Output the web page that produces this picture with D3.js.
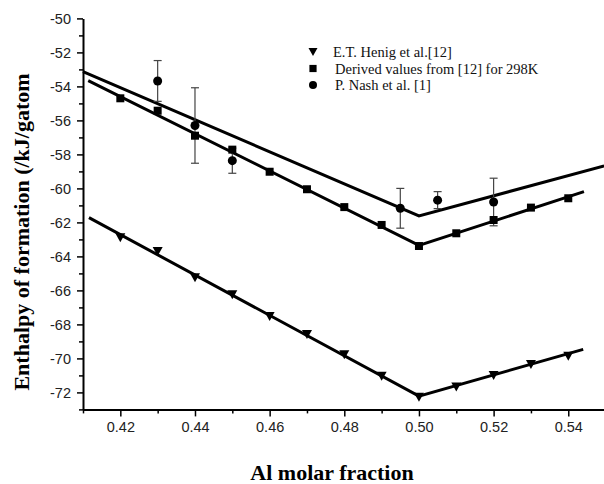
<!DOCTYPE html>
<html>
<head>
<meta charset="utf-8">
<script src="https://cdn.jsdelivr.net/npm/d3@7"></script>
<style>
  body { margin: 0; background: #fff; }
  svg { display: block; }
</style>
</head>
<body>
<svg id="chart"></svg>
<script>
// Data
const alFraction = [0.42, 0.43, 0.44, 0.45, 0.46, 0.47, 0.48, 0.49, 0.50, 0.51, 0.52, 0.53, 0.54];
const henigValues = [-62.88, -63.68, -65.23, -66.23, -67.5, -68.56, -69.76, -71.02, -72.25, -71.66, -70.98, -70.33, -69.84];
const derivedValues = [-54.7, -55.43, -56.9, -57.72, -59.02, -60.05, -61.1, -62.15, -63.39, -62.64, -61.86, -61.13, -60.58];

const nashX = [0.43, 0.44, 0.45, 0.495, 0.505, 0.52];
const nashValues = [-53.68, -56.3, -58.37, -61.17, -60.69, -60.8];
const nashErrors = [1.2, 2.22, 0.74, 1.17, 0.5, 1.4];

// Fitted lines (two straight segments each)
const nashFitX = [0.41, 0.50, 0.5496];
const nashFitY = [-53.13, -61.62, -58.68];
const derivedFitX = [0.4114, 0.50, 0.5442];
const derivedFitY = [-53.66, -63.35, -60.19];
const henigFitX = [0.4116, 0.50, 0.544];
const henigFitY = [-61.72, -72.22, -69.47];

const xMajorTicks = [0.42, 0.44, 0.46, 0.48, 0.50, 0.52, 0.54];
const xMinorTicks = [0.41, 0.43, 0.45, 0.47, 0.49, 0.51, 0.53, 0.55];
const yMajorTicks = [-72, -70, -68, -66, -64, -62, -60, -58, -56, -54, -52, -50];
const yMinorTicks = [-73, -71, -69, -67, -65, -63, -61, -59, -57, -55, -53, -51];

const legendLabels = ["E.T. Henig et al.[12]", "Derived values from [12] for 298K", "P. Nash et al. [1]"];

const width = 604;
const height = 484;

const svg = d3.select("#chart")
  .attr("width", width)
  .attr("height", height);

const x = d3.scaleLinear().domain([0.41, 0.55]).range([83, 605.6]);
const y = d3.scaleLinear().domain([-73, -50]).range([409.4, 18.4]);

const tickFont = "'Liberation Sans', Arial, sans-serif";
const serif = "'Liberation Serif', 'Times New Roman', serif";

// Axes
svg.append("g")
  .attr("transform", `translate(0,${y(-73)})`)
  .call(d3.axisBottom(x).tickValues(xMajorTicks).tickSize(7).tickSizeOuter(0)
    .tickPadding(5).tickFormat(d3.format(".2f")));

svg.append("g")
  .attr("transform", `translate(0,${y(-73)})`)
  .call(d3.axisBottom(x).tickValues(xMinorTicks).tickSize(4).tickSizeOuter(0).tickFormat(""))
  .select(".domain").remove();

svg.append("g")
  .attr("transform", `translate(${x(0.41)},0)`)
  .call(d3.axisLeft(y).tickValues(yMajorTicks).tickSize(6).tickSizeOuter(0)
    .tickPadding(6).tickFormat(d => String(d)));

svg.append("g")
  .attr("transform", `translate(${x(0.41)},0)`)
  .call(d3.axisLeft(y).tickValues(yMinorTicks).tickSize(4).tickSizeOuter(0).tickFormat(""))
  .select(".domain").remove();

svg.selectAll(".domain").attr("stroke", "#000").attr("stroke-width", 2);
svg.selectAll(".tick line").attr("stroke", "#000").attr("stroke-width", 1.5);
svg.selectAll(".tick text")
  .attr("fill", "#222")
  .style("font-family", tickFont)
  .style("font-size", "14.5px");

// Axis titles
svg.append("text")
  .attr("x", 332)
  .attr("y", 480)
  .attr("text-anchor", "middle")
  .style("font-family", serif)
  .style("font-weight", "bold")
  .style("font-size", "22px")
  .text("Al molar fraction");

svg.append("text")
  .attr("transform", "translate(28.5,232) rotate(-90)")
  .attr("text-anchor", "middle")
  .style("font-family", serif)
  .style("font-weight", "bold")
  .style("font-size", "22px")
  .text("Enthalpy of formation (/kJ/gatom");

// Fit lines
const line = d3.line().x(d => x(d[0])).y(d => y(d[1]));
const fits = [
  d3.zip(nashFitX, nashFitY),
  d3.zip(derivedFitX, derivedFitY),
  d3.zip(henigFitX, henigFitY)
];
svg.append("g")
  .selectAll("path")
  .data(fits)
  .join("path")
  .attr("d", line)
  .attr("fill", "none")
  .attr("stroke", "#000")
  .attr("stroke-width", 3)
  .attr("stroke-linejoin", "miter");

// Error bars for Nash et al.
const nash = d3.zip(nashX, nashValues, nashErrors);
const errG = svg.append("g").attr("stroke", "#444").attr("stroke-width", 1.2);
errG.selectAll("line.v")
  .data(nash)
  .join("line")
  .attr("class", "v")
  .attr("x1", d => x(d[0])).attr("x2", d => x(d[0]))
  .attr("y1", d => y(d[1] + d[2])).attr("y2", d => y(d[1] - d[2]));
errG.selectAll("line.top")
  .data(nash)
  .join("line")
  .attr("class", "top")
  .attr("x1", d => x(d[0]) - 4).attr("x2", d => x(d[0]) + 4)
  .attr("y1", d => y(d[1] + d[2])).attr("y2", d => y(d[1] + d[2]));
errG.selectAll("line.bot")
  .data(nash)
  .join("line")
  .attr("class", "bot")
  .attr("x1", d => x(d[0]) - 4).attr("x2", d => x(d[0]) + 4)
  .attr("y1", d => y(d[1] - d[2])).attr("y2", d => y(d[1] - d[2]));

// Markers
const triangle = "M-5,-4L5,-4L0,5Z";
const square = "M-4,-4L4,-4L4,4L-4,4Z";

svg.append("g")
  .selectAll("path")
  .data(d3.zip(alFraction, henigValues))
  .join("path")
  .attr("d", triangle)
  .attr("transform", d => `translate(${x(d[0])},${y(d[1])})`)
  .attr("fill", "#000");

svg.append("g")
  .selectAll("path")
  .data(d3.zip(alFraction, derivedValues))
  .join("path")
  .attr("d", square)
  .attr("transform", d => `translate(${x(d[0])},${y(d[1])})`)
  .attr("fill", "#000");

svg.append("g")
  .selectAll("circle")
  .data(nash)
  .join("circle")
  .attr("cx", d => x(d[0]))
  .attr("cy", d => y(d[1]))
  .attr("r", 4.5)
  .attr("fill", "#000");

// Legend
const legendRows = [
  { sym: "tri", y: 51.5, tx: 333 },
  { sym: "sq", y: 68.5, tx: 335 },
  { sym: "circ", y: 85, tx: 335 }
];
const legend = svg.append("g");
legendRows.forEach((r, i) => {
  if (r.sym === "circ") {
    legend.append("circle").attr("cx", 313).attr("cy", r.y).attr("r", 4).attr("fill", "#000");
  } else {
    legend.append("path")
      .attr("d", r.sym === "tri" ? triangle : square)
      .attr("transform", `translate(313,${r.y}) scale(0.9)`)
      .attr("fill", "#000");
  }
  legend.append("text")
    .attr("x", r.tx)
    .attr("y", r.y + 5)
    .style("font-family", serif)
    .style("font-size", "14.5px")
    .attr("fill", "#111")
    .text(legendLabels[i]);
});
</script>
</body>
</html>
